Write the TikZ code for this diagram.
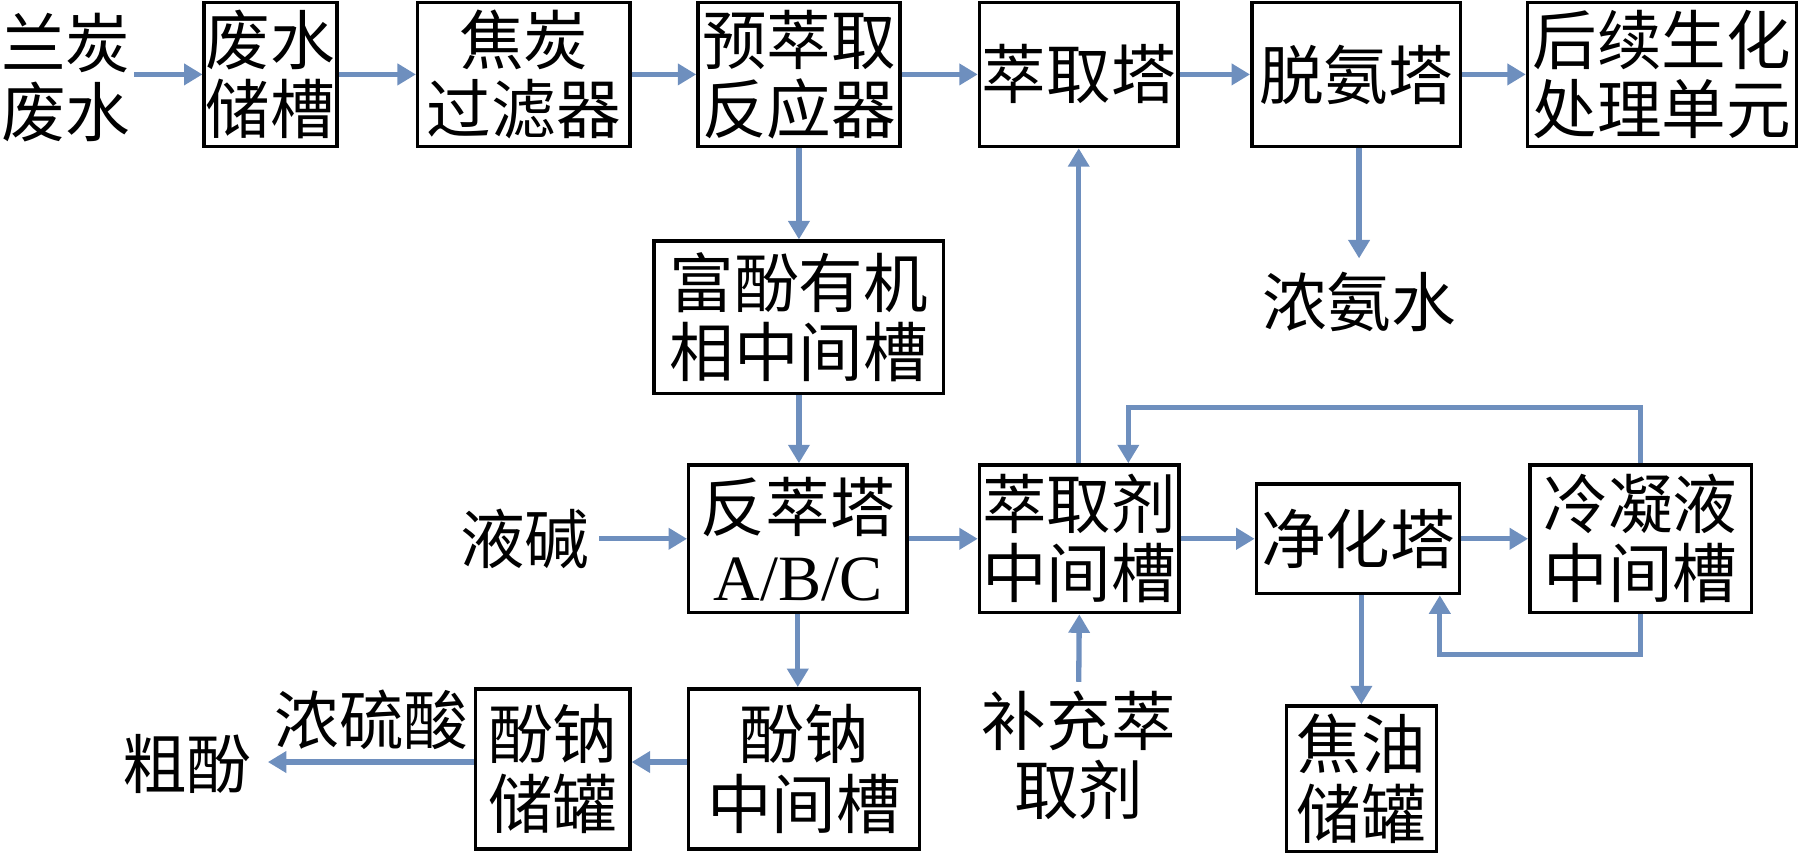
\documentclass[tikz,border=0pt]{standalone}
\usepackage{fontspec}
\setmainfont{Liberation Serif}
\newfontfamily\cjk{Noto Sans CJK SC}
\usetikzlibrary{arrows.meta}
\definecolor{arrowblue}{RGB}{110,143,190}
\tikzset{
  box/.style={draw=black, line width=3pt, inner sep=0pt, align=center,
    font=\cjk\fontsize{56}{60}\selectfont},
  lbl/.style={inner sep=0pt, align=center, font=\cjk\fontsize{56}{60}\selectfont},
  arr/.style={draw=arrowblue, line width=4.6pt, -{Triangle[length=16pt,width=18pt]}}
}
\begin{document}
\begin{tikzpicture}[x=1pt,y=-1pt]
\useasboundingbox (0,0) rectangle (1568,740);
% row 1
\node[lbl] (src) at (57,67) {兰炭\\废水};
\node[box, minimum width=115pt, minimum height=125pt] (wt) at (234.5,64.5) {废水\\储槽};
\node[box, minimum width=184pt, minimum height=125pt] (cf) at (454,64.5) {焦炭\\过滤器};
\node[box, minimum width=175pt, minimum height=125pt] (pre) at (692.5,64.5) {预萃取\\反应器};
\node[box, minimum width=172pt, minimum height=125pt] (ext) at (935,64.5) {萃取塔};
\node[box, minimum width=181pt, minimum height=125pt] (dea) at (1175.5,64.5) {脱氨塔};
\node[box, minimum width=233pt, minimum height=125pt] (bio) at (1440.5,64.5) {后续生化\\处理单元};
% row 2
\node[box, minimum width=251pt, minimum height=132pt] (rich) at (692.5,275) {富酚有机\\相中间槽};
\node[lbl] (nh3) at (1178,262) {浓氨水};
% row 3
\node[lbl] (alk) at (455,467) {液碱};
\node[box, minimum width=189pt, minimum height=128pt] (back) at (691.5,467) {反萃塔\\{\rmfamily A/B/C}};
\node[box, minimum width=173pt, minimum height=128pt] (solv) at (935.5,467) {萃取剂\\中间槽};
\node[box, minimum width=176pt, minimum height=95pt] (pur) at (1177,467) {净化塔};
\node[box, minimum width=192pt, minimum height=128pt] (cond) at (1422,467) {冷凝液\\中间槽};
% row 4
\node[lbl] (sup) at (935,655) {补充萃\\取剂};
\node[box, minimum width=130pt, minimum height=126pt] (tar) at (1180,675) {焦油\\储罐};
\node[box, minimum width=200pt, minimum height=139pt] (na) at (697,666.5) {酚钠\\中间槽};
\node[box, minimum width=134pt, minimum height=139pt] (nas) at (479,666.5) {酚钠\\储罐};
\node[lbl] (acid) at (322,624) {浓硫酸};
\node[lbl] (crude) at (162,662) {粗酚};
\coordinate (tl) at (978,353);
\coordinate (bl) at (1248,567);
\coordinate (naw) at ([yshift=6pt]na.west);
\coordinate (nasw) at ([yshift=6pt]nas.west);
% connectors
\draw[arr] ([xshift=3pt]src.east |- wt.west) -- (wt.west);
\draw[arr] (wt.east) -- (cf.west);
\draw[arr] (cf.east) -- (pre.west);
\draw[arr] (pre.east) -- (ext.west);
\draw[arr] (ext.east) -- (dea.west);
\draw[arr] (dea.east) -- (bio.west);
\draw[arr] (pre.south) -- (rich.north);
\draw[arr] (dea.south -| nh3.north) -- ([yshift=12pt]nh3.north);
\draw[arr] (rich.south) -- (rich.south |- back.north);
\draw[arr] (solv.north -| ext.south) -- (ext.south);
\draw[arr] ([xshift=8pt]alk.east) -- (back.west);
\draw[arr] (back.east) -- (solv.west);
\draw[arr] (solv.east) -- (pur.west);
\draw[arr] (pur.east) -- (cond.west);
\draw[arr] (cond.north) |- (tl) -- (tl |- solv.north);
\draw[arr] (cond.south) |- (bl) -- (bl |- pur.south);
\draw[arr] (pur.south -| tar.north) -- (tar.north);
\draw[arr] ([yshift=8pt]sup.north) -- (solv.south);
\draw[arr] (back.south) -- (back.south |- na.north);
\draw[arr] (naw) -- (naw -| nas.east);
\draw[arr] (nasw) -- ([xshift=14pt]crude.east |- nasw);
\end{tikzpicture}
\end{document}
